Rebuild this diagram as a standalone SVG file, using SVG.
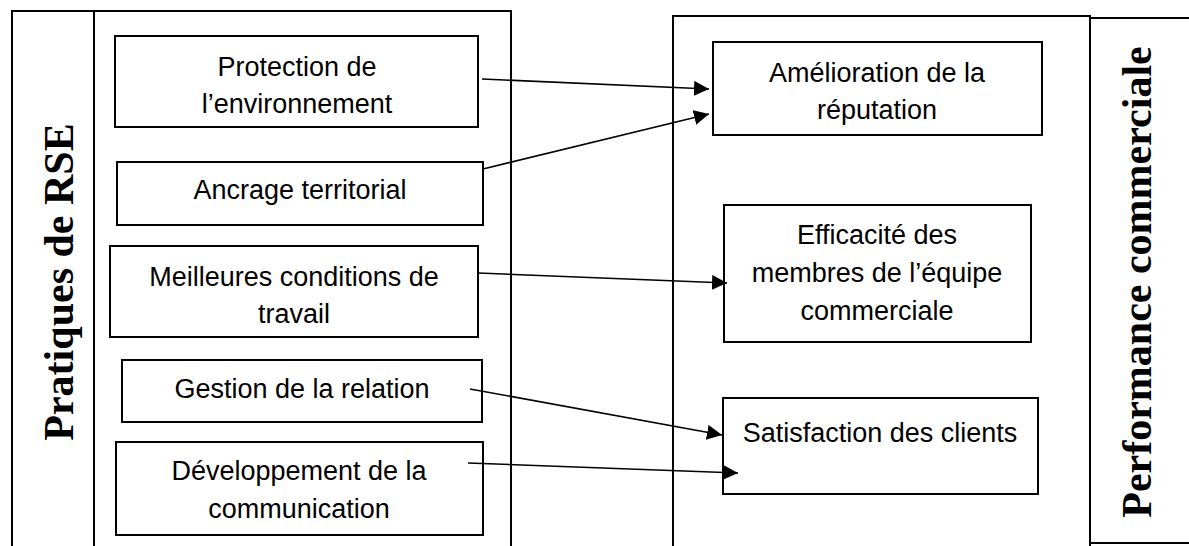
<svg xmlns="http://www.w3.org/2000/svg" width="1189" height="546" viewBox="0 0 1189 546">
<style>
.frame{fill:none;stroke:#000;stroke-width:2}
.box{fill:#fff;stroke:#000;stroke-width:2}
.t{font-family:"Liberation Sans",Arial,sans-serif;font-size:27px;fill:#000;text-anchor:middle}
.h{font-family:"Liberation Serif","Times New Roman",serif;font-size:42px;font-weight:bold;fill:#000;text-anchor:middle}
.c{fill:none;stroke:#000;stroke-width:1.6}
</style>
<defs>
<marker id="ah" viewBox="0 0 15 15" refX="15" refY="7.5" markerWidth="15" markerHeight="15" markerUnits="userSpaceOnUse" orient="auto">
<path d="M0,0 L15,7.5 L0,15 z" fill="#000"/>
</marker>
</defs>
<rect width="1189" height="546" fill="#fff"/>
<g id="frame-left">
<path class="frame" d="M12,546 V11 H511 V546 M94,11 V546"/>
<text class="h" transform="translate(73,282) rotate(-90)">Pratiques de RSE</text>
</g>
<g id="frame-right">
<path class="frame" d="M673,546 V16 H1090 V546"/>
<path class="frame" d="M1090,18 H1195 M1090,543 H1195"/>
<text class="h" transform="translate(1151,282) rotate(-90)">Performance commerciale</text>
</g>
<g id="protection">
<rect class="box" x="115" y="36" width="363" height="91"/>
<text class="t" x="297" y="76">Protection de</text>
<text class="t" x="297" y="113">l’environnement</text>
</g>
<g id="ancrage">
<rect class="box" x="117" y="162" width="366" height="63"/>
<text class="t" x="300" y="199">Ancrage territorial</text>
</g>
<g id="meilleures">
<rect class="box" x="110" y="246" width="368" height="91"/>
<text class="t" x="294" y="286">Meilleures conditions de</text>
<text class="t" x="294" y="323">travail</text>
</g>
<g id="gestion">
<rect class="box" x="122" y="360" width="360" height="62"/>
<text class="t" x="302" y="398">Gestion de la relation</text>
</g>
<g id="developpement">
<rect class="box" x="116" y="442" width="367" height="93"/>
<text class="t" x="299" y="480">Développement de la</text>
<text class="t" x="299" y="518">communication</text>
</g>
<g id="amelioration">
<rect class="box" x="713" y="42" width="329" height="93"/>
<text class="t" x="877" y="82">Amélioration de la</text>
<text class="t" x="877" y="119">réputation</text>
</g>
<g id="efficacite">
<rect class="box" x="724" y="205" width="307" height="137"/>
<text class="t" x="877" y="244">Efficacité des</text>
<text class="t" x="877" y="282">membres de l’équipe</text>
<text class="t" x="877" y="320">commerciale</text>
</g>
<g id="satisfaction">
<rect class="box" x="723" y="398" width="315" height="96"/>
<text class="t" x="880" y="442">Satisfaction des clients</text>
</g>
<g id="connectors">
<line class="c" x1="482" y1="79" x2="709" y2="89" marker-end="url(#ah)"/>
<line class="c" x1="483" y1="169" x2="709" y2="114" marker-end="url(#ah)"/>
<line class="c" x1="478" y1="273" x2="727" y2="283" marker-end="url(#ah)"/>
<line class="c" x1="470" y1="389" x2="722" y2="435" marker-end="url(#ah)"/>
<line class="c" x1="468" y1="463" x2="738" y2="473" marker-end="url(#ah)"/>
</g>
</svg>
